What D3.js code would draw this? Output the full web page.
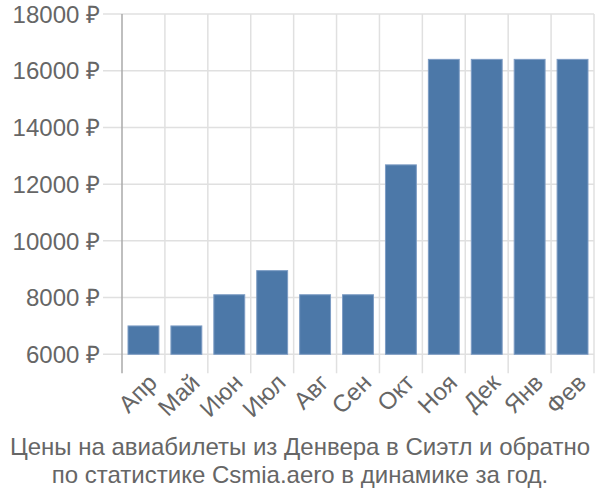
<!DOCTYPE html>
<html><head><meta charset="utf-8">
<script src="https://cdn.jsdelivr.net/npm/d3@7"></script>
<style>body{margin:0;background:#fff}svg{display:block;font-family:"Liberation Sans",Arial,sans-serif}</style>
</head><body>
<svg id="c" width="600" height="500"></svg>
<script>
const categories = ["Апр","Май","Июн","Июл","Авг","Сен","Окт","Ноя","Дек","Янв","Фев"];
const values = [7000,7000,8100,8950,8100,8100,12680,16400,16400,16400,16400];
const yTicks = [6000,8000,10000,12000,14000,16000,18000];
const titleLines = ["Цены на авиабилеты из Денвера в Сиэтл и обратно","по статистике Csmia.aero в динамике за год."];

const svg = d3.select("#c");
const L = 122, R = 594, T = 14, B = 354.3;
const x = d3.scaleBand().domain(categories).range([L, R]).paddingInner(0.28).paddingOuter(0.14);
const y = d3.scaleLinear().domain([6000, 18000]).range([B, T]);
const step = x.step();

// horizontal grid
svg.append("g").selectAll("line").data(yTicks).join("line")
  .attr("x1", L - 19).attr("x2", R).attr("y1", d => y(d)).attr("y2", d => y(d))
  .attr("stroke", "#e0e0e0").attr("stroke-width", 1.5);
// vertical grid at band boundaries
const bounds = categories.map(c => x(c) - step * 0.14).concat([R]);
svg.append("g").selectAll("line").data(bounds.slice(1)).join("line")
  .attr("x1", d => d).attr("x2", d => d).attr("y1", T).attr("y2", B + 19)
  .attr("stroke", "#e0e0e0").attr("stroke-width", 1.5);
// left axis line
svg.append("line").attr("x1", L).attr("x2", L).attr("y1", T).attr("y2", B + 19)
  .attr("stroke", "#aaaaaa").attr("stroke-width", 1.5);

// bars
svg.append("g").selectAll("rect").data(values).join("rect")
  .attr("x", (d, i) => x(categories[i]))
  .attr("width", x.bandwidth())
  .attr("y", d => y(d))
  .attr("height", d => y(6000) - y(d))
  .attr("fill", "#4c78a8")
  .attr("stroke", "#7d9cc4").attr("stroke-width", 1);

// y labels
svg.append("g").selectAll("text").data(yTicks).join("text")
  .attr("x", L - 22).attr("y", d => y(d)).attr("dy", "0.36em")
  .attr("text-anchor", "end").attr("font-size", 24).attr("fill", "#666")
  .text(d => d + " ₽");

// x labels
svg.append("g").selectAll("text").data(categories).join("text")
  .attr("transform", d => `translate(${x(d) + x.bandwidth() / 2 + 3},${B + 18}) rotate(-45)`)
  .attr("text-anchor", "end").attr("dy", "0.7em").attr("font-size", 24).attr("fill", "#666")
  .text(d => d);

// title
svg.append("g").selectAll("text").data(titleLines).join("text")
  .attr("x", 300).attr("y", (d, i) => 455 + i * 28)
  .attr("text-anchor", "middle").attr("font-size", 24).attr("fill", "#666")
  .text(d => d);
</script>
</body></html>
